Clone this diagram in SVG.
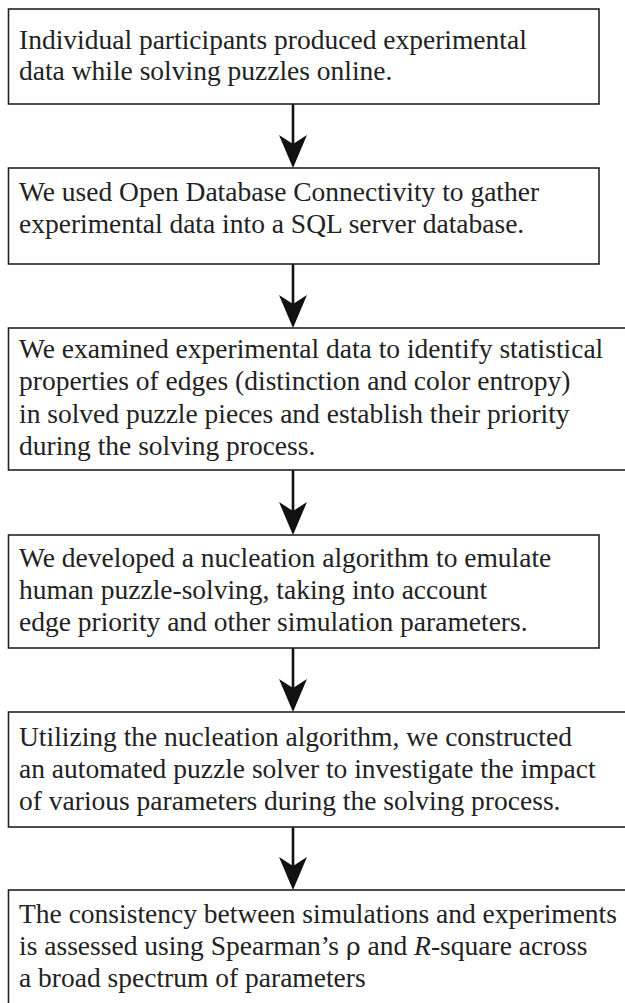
<svg xmlns="http://www.w3.org/2000/svg" width="625" height="1003" viewBox="0 0 625 1003">
<style>
.box{fill:#fff;stroke:#222;stroke-width:1.6}
.t{font-family:"Liberation Serif","Times New Roman",serif;font-size:27.5px;fill:#222}
.shaft{stroke:#111;stroke-width:2.6;fill:none}
.head{fill:#111;stroke:none}
</style>
<defs>
<path id="ah" d="M0,0 L-14,-33 L0,-24 L14,-33 Z"/>
</defs>
<rect width="625" height="1003" fill="#fff"/>
<g id="connectors">
<line class="shaft" x1="293" y1="104" x2="293" y2="150"/><use href="#ah" class="head" x="293" y="168"/>
<line class="shaft" x1="293" y1="264" x2="293" y2="310"/><use href="#ah" class="head" x="293" y="328"/>
<line class="shaft" x1="293" y1="470" x2="293" y2="517"/><use href="#ah" class="head" x="293" y="535"/>
<line class="shaft" x1="293" y1="648" x2="293" y2="694"/><use href="#ah" class="head" x="293" y="712"/>
<line class="shaft" x1="293" y1="827" x2="293" y2="872"/><use href="#ah" class="head" x="293" y="890"/>
</g>
<g id="n1">
<rect class="box" x="8.5" y="9" width="590.5" height="95"/>
<text class="t" x="19" y="49">Individual participants produced experimental</text>
<text class="t" x="19" y="80">data while solving puzzles online.</text>
</g>
<g id="n2">
<rect class="box" x="8.5" y="168" width="590.5" height="96"/>
<text class="t" x="19" y="201">We used Open Database Connectivity to gather</text>
<text class="t" x="19" y="233">experimental data into a SQL server database.</text>
</g>
<g id="n3">
<rect class="box" x="8.5" y="328" width="630" height="142"/>
<text class="t" x="19" y="358">We examined experimental data to identify statistical</text>
<text class="t" x="19" y="390">properties of edges (distinction and color entropy)</text>
<text class="t" x="19" y="423">in solved puzzle pieces and establish their priority</text>
<text class="t" x="19" y="455">during the solving process.</text>
</g>
<g id="n4">
<rect class="box" x="8.5" y="535" width="590.5" height="113"/>
<text class="t" x="19" y="567">We developed a nucleation algorithm to emulate</text>
<text class="t" x="19" y="599">human puzzle-solving, taking into account</text>
<text class="t" x="19" y="631">edge priority and other simulation parameters.</text>
</g>
<g id="n5">
<rect class="box" x="8.5" y="712" width="630" height="115"/>
<text class="t" x="19" y="746">Utilizing the nucleation algorithm, we constructed</text>
<text class="t" x="19" y="778">an automated puzzle solver to investigate the impact</text>
<text class="t" x="19" y="810">of various parameters during the solving process.</text>
</g>
<g id="n6">
<rect class="box" x="8.5" y="890" width="630" height="130"/>
<text class="t" x="19" y="923">The consistency between simulations and experiments</text>
<text class="t" x="19" y="955">is assessed using Spearman’s <tspan font-family="'DejaVu Serif',serif" font-size="25">ρ</tspan> and <tspan font-style="italic">R</tspan>-square across</text>
<text class="t" x="19" y="987">a broad spectrum of parameters</text>
</g>
</svg>
